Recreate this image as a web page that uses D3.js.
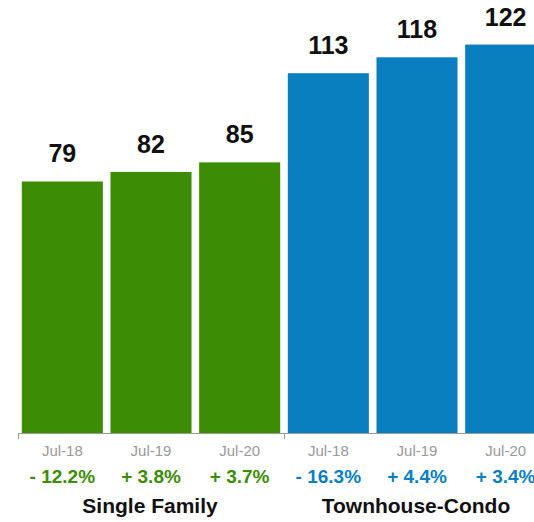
<!DOCTYPE html>
<html>
<head>
<meta charset="utf-8">
<script src="https://cdn.jsdelivr.net/npm/d3@7"></script>
<style>
  body { margin: 0; background: #fff; }
  svg { display: block; font-family: "Liberation Sans", Arial, Helvetica, sans-serif; }
</style>
</head>
<body>
<div id="chart"></div>
<script>
// data
var groups = ['Single Family', 'Townhouse-Condo'];
var periods = ['Jul-18', 'Jul-19', 'Jul-20'];
var single_family = [79, 82, 85];
var townhouse_condo = [113, 118, 122];
var single_family_change = ['- 12.2%', '+ 3.8%', '+ 3.7%'];
var townhouse_condo_change = ['- 16.3%', '+ 4.4%', '+ 3.4%'];
var group_colors = ['#3d8c05', '#0a7fbf'];

// flatten into one row per bar
var data = [];
[single_family, townhouse_condo].forEach(function(vals, g) {
  var changes = g === 0 ? single_family_change : townhouse_condo_change;
  vals.forEach(function(v, i) {
    data.push({ key: g * 3 + i, group: g, period: periods[i], num: v, change: changes[i] });
  });
});

var chart_width = 534;
var chart_height = 522;
var base_y = 433;

var svg = d3.select('#chart')
  .append('svg')
  .attr('width', chart_width)
  .attr('height', chart_height);

var x_scale = d3.scaleBand()
  .domain(d3.range(data.length))
  .range([18, 550])
  .paddingInner(0.086)
  .paddingOuter(0.043);

var y_scale = d3.scaleLinear()
  .domain([0, 136])
  .range([base_y, 0]);

// bars
svg.selectAll('rect.bar')
  .data(data)
  .enter()
  .append('rect')
  .attr('class', 'bar')
  .attr('x', function(d, i) { return x_scale(i); })
  .attr('y', function(d) { return y_scale(d.num); })
  .attr('width', x_scale.bandwidth())
  .attr('height', function(d) { return base_y - y_scale(d.num); })
  .attr('fill', function(d) { return group_colors[d.group]; });

// value labels
svg.selectAll('text.val')
  .data(data)
  .enter()
  .append('text')
  .attr('class', 'val')
  .text(function(d) { return d.num; })
  .attr('x', function(d, i) { return x_scale(i) + x_scale.bandwidth() / 2; })
  .attr('y', function(d) { return y_scale(d.num) - 19; })
  .attr('text-anchor', 'middle')
  .attr('font-size', '25px')
  .attr('font-weight', 'bold')
  .attr('fill', '#111');

// axis (tick labels from the band scale)
var x_axis = d3.axisBottom(x_scale)
  .tickSize(0)
  .tickPadding(0)
  .tickFormat(function(i) { return data[i].period; });

var axis_g = svg.append('g')
  .attr('transform', 'translate(0,' + base_y + ')')
  .call(x_axis);
axis_g.select('.domain').remove();
axis_g.selectAll('text')
  .attr('dy', null)
  .attr('y', 23)
  .attr('font-size', '15px')
  .attr('font-family', '"Liberation Sans", Arial, sans-serif')
  .attr('fill', '#999');

// baseline and group ticks
svg.append('line')
  .attr('x1', 18).attr('x2', chart_width)
  .attr('y1', base_y + 0.5).attr('y2', base_y + 0.5)
  .attr('stroke', '#999');
[0, 3].forEach(function(k) {
  var tx = Math.round(x_scale(k) - x_scale.step() * x_scale.paddingInner() / 2) + 0.5;
  svg.append('line')
    .attr('x1', tx).attr('x2', tx)
    .attr('y1', base_y).attr('y2', base_y + 6)
    .attr('stroke', '#999');
});

// percent change labels
svg.selectAll('text.chg')
  .data(data)
  .enter()
  .append('text')
  .attr('class', 'chg')
  .text(function(d) { return d.change; })
  .attr('x', function(d, i) { return x_scale(i) + x_scale.bandwidth() / 2; })
  .attr('y', 483)
  .attr('text-anchor', 'middle')
  .attr('font-size', '19px')
  .attr('font-weight', 'bold')
  .attr('fill', function(d) { return group_colors[d.group]; });

// group names
svg.selectAll('text.grp')
  .data(groups)
  .enter()
  .append('text')
  .attr('class', 'grp')
  .text(function(d) { return d; })
  .attr('x', function(d, g) {
    var left = x_scale(g * 3) - x_scale.step() * x_scale.paddingInner() / 2;
    return left + x_scale.step() * 3 / 2 - 1;
  })
  .attr('y', 513)
  .attr('text-anchor', 'middle')
  .attr('font-size', '21px')
  .attr('font-weight', 'bold')
  .attr('fill', '#111');
</script>
</body>
</html>
